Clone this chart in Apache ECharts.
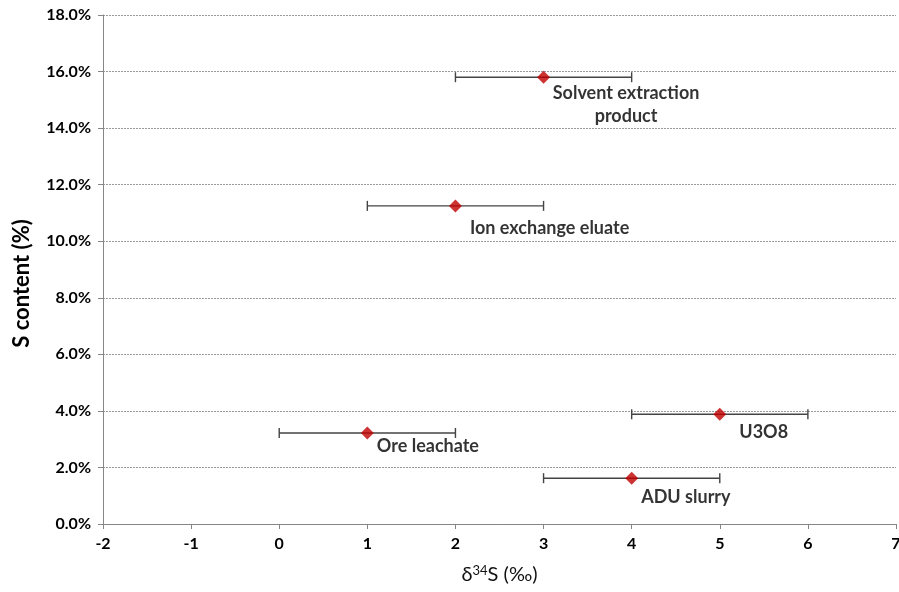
<!DOCTYPE html>
<html>
<head>
<meta charset="utf-8">
<script src="https://cdn.jsdelivr.net/npm/echarts@6/dist/echarts.min.js"></script>
<style>html,body{margin:0;padding:0;background:#fff;}#c{width:899px;height:592px;}</style>
</head>
<body>
<div id="c"></div>
<script>
// Data
var names = ["Solvent extraction\nproduct", "Ion exchange eluate", "Ore leachate", "U3O8", "ADU slurry"];
var d34S = [3, 2, 1, 5, 4];
var sContent = [15.8, 11.25, 3.22, 3.88, 1.62];
var errLow = [2, 1, 0, 4, 3];
var errHigh = [4, 3, 2, 6, 5];

// label placement (style, not data)
var labelOffsets = [[76, -2], [8, 4], [3, -5], [13, 0], [3, 1]];
var labelAligns = ['center', 'left', 'left', 'left', 'left'];

var FONT = 'Lato, "Open Sans", sans-serif';
var chart = echarts.init(document.getElementById('c'));

var pts = names.map(function (n, i) {
  return {
    value: [d34S[i], sContent[i]],
    name: n,
    label: {
      show: true,
      formatter: n,
      position: ['100%', '100%'],
      offset: labelOffsets[i],
      align: labelAligns[i],
      verticalAlign: 'top',
      color: '#000'
    }
  };
});

var bars = names.map(function (n, i) { return [errLow[i], errHigh[i], sContent[i]]; });

chart.setOption({
  animation: false,
  grid: { left: 103, right: 3, top: 15, bottom: 68, outerBoundsMode: 'none', containLabel: false },
  xAxis: {
    type: 'value', min: -2, max: 7, interval: 1,
    axisLine: { show: true, onZero: false, lineStyle: { color: '#868686', width: 1 } },
    axisTick: { show: true, length: 5, lineStyle: { color: '#868686' } },
    splitLine: { show: false },
    axisLabel: { color: '#000', fontWeight: 'bold', fontSize: 16, fontFamily: FONT, margin: 12 },
    name: '{a|δ}{s|34}{a|S (‰)}',
    nameLocation: 'middle', nameGap: 40,
    nameTextStyle: {
      rich: {
        a: { fontSize: 20, fontFamily: FONT, color: '#111' },
        s: { fontSize: 13, fontFamily: FONT, color: '#111', verticalAlign: 'top', padding: [0, 0, 9, 0] }
      }
    }
  },
  yAxis: {
    type: 'value', min: 0, max: 18, interval: 2,
    axisLine: { show: true, onZero: false, lineStyle: { color: '#868686', width: 1 } },
    axisTick: { show: true, length: 5, lineStyle: { color: '#868686' } },
    splitLine: { show: true, lineStyle: { color: '#9a9a9a', type: [2, 1], width: 1 } },
    axisLabel: {
      color: '#000', fontWeight: 'bold', fontSize: 16, fontFamily: FONT, margin: 12,
      formatter: function (v) { return v.toFixed(1) + '%'; }
    },
    name: 'S content (%)', nameLocation: 'middle', nameGap: 70,
    nameTextStyle: { fontSize: 22, fontWeight: 'bold', fontFamily: FONT, color: '#000', padding: [0, 28, 0, 0] }
  },
  series: [
    {
      type: 'custom',
      data: bars,
      z: 2,
      renderItem: function (params, api) {
        var a = api.coord([api.value(0), api.value(2)]);
        var b = api.coord([api.value(1), api.value(2)]);
        var h = 5;
        var st = { stroke: '#444', lineWidth: 1.4 };
        return {
          type: 'group',
          children: [
            { type: 'line', shape: { x1: a[0], y1: a[1], x2: b[0], y2: b[1] }, style: st },
            { type: 'line', shape: { x1: a[0], y1: a[1] - h, x2: a[0], y2: a[1] + h }, style: st },
            { type: 'line', shape: { x1: b[0], y1: b[1] - h, x2: b[0], y2: b[1] + h }, style: st }
          ]
        };
      }
    },
    {
      type: 'scatter',
      symbol: 'diamond',
      symbolSize: 13,
      z: 3,
      itemStyle: { color: '#c00000' },
      label: { color: '#000', fontWeight: 'bold', fontSize: 18, fontFamily: FONT, lineHeight: 23 },
      data: pts
    }
  ]
});
</script>
</body>
</html>
